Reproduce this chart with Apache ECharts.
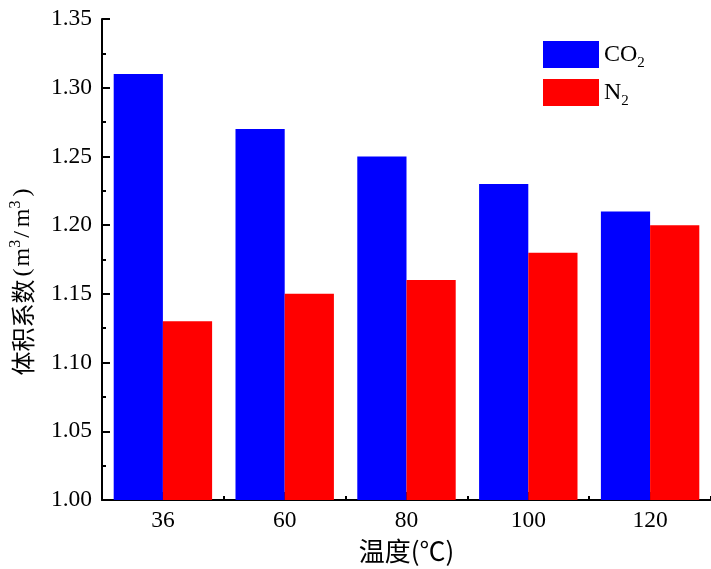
<!DOCTYPE html>
<html>
<head>
<meta charset="utf-8">
<script src="https://cdn.jsdelivr.net/npm/echarts@6/dist/echarts.min.js"></script>
<style>
  html, body { margin: 0; padding: 0; background: #fff; }
  #chart { width: 711px; height: 569px; }
</style>
</head>
<body>
<div id="chart"></div>
<script>
// Temperature categories (°C)
const categories = ['36', '60', '80', '100', '120'];
// Volume factor (m3/m3) for each gas
const co2Values = [1.31, 1.27, 1.25, 1.23, 1.21];
const n2Values = [1.13, 1.15, 1.16, 1.18, 1.20];
// Value axis range
const yMin = 1.00;
const yMax = 1.35;
const yStep = 0.05;

const serif = 'Liberation Serif';
const cjk = 'Noto Sans CJK SC';

const chart = echarts.init(document.getElementById('chart'));

const axisLineStyle = { color: '#000', width: 2 };

chart.setOption({
  animation: false,
  backgroundColor: '#fff',
  textStyle: { fontFamily: serif, color: '#000' },
  grid: { left: 100, top: 19, right: 0, bottom: 67, containLabel: false },
  legend: {
    orient: 'vertical',
    left: 543,
    top: 41,
    padding: 0,
    itemWidth: 56,
    itemHeight: 27,
    itemGap: 8.6,
    icon: 'rect',
    data: ['CO2', 'N2'],
    formatter: function (name) {
      return '{n|' + name.slice(0, -1) + '}{s|' + name.slice(-1) + '}';
    },
    textStyle: {
      rich: {
        n: { fontFamily: serif, fontSize: 24, color: '#000', lineHeight: 32, verticalAlign: 'middle' },
        s: { fontFamily: serif, fontSize: 15, color: '#000', lineHeight: 10, verticalAlign: 'bottom' }
      }
    }
  },
  xAxis: [
    {
      type: 'category',
      data: categories,
      position: 'bottom',
      axisLine: { show: true, lineStyle: axisLineStyle },
      axisTick: { show: true, inside: true, alignWithLabel: true, length: 8, lineStyle: axisLineStyle },
      axisLabel: {
        margin: 9,
        formatter: function (v) { return '{t|' + v + '}'; },
        rich: { t: { fontFamily: serif, fontSize: 23.5, color: '#000' } }
      },
      splitLine: { show: false },
      name: '温度(℃)',
      nameLocation: 'middle',
      nameGap: 38,
      nameTextStyle: { fontFamily: cjk, fontSize: 26, color: '#000' }
    },
    {
      // boundary ticks between temperature groups
      type: 'category',
      data: categories,
      position: 'bottom',
      axisLine: { show: false },
      axisTick: { show: true, inside: true, alignWithLabel: false, length: 4, lineStyle: axisLineStyle },
      axisLabel: { show: false },
      splitLine: { show: false }
    }
  ],
  yAxis: {
    type: 'value',
    min: yMin,
    max: yMax,
    interval: yStep,
    axisLine: { show: true, lineStyle: axisLineStyle },
    axisTick: { show: true, inside: true, length: 8, lineStyle: axisLineStyle },
    minorTick: { show: true, splitNumber: 2, length: 4, lineStyle: axisLineStyle },
    splitLine: { show: false },
    axisLabel: {
      margin: 10,
      formatter: function (v) { return '{t|' + v.toFixed(2) + '}'; },
      rich: { t: { fontFamily: serif, fontSize: 23.5, color: '#000' } }
    },
    name: '{c|体积系数}{pl|(}{p|m}{s|3}{sl|/}{p|m}{s|3}{pr|)}',
    nameLocation: 'middle',
    nameGap: 64,
    nameRotate: 90,
    nameTextStyle: {
      padding: [0, 45, 0, 0],
      rich: {
        c: { fontFamily: cjk, fontSize: 24, color: '#000', lineHeight: 30, verticalAlign: 'middle' },
        p: { fontFamily: serif, fontSize: 24, color: '#000', lineHeight: 30, verticalAlign: 'middle' },
        pl: { fontFamily: serif, fontSize: 24, color: '#000', lineHeight: 30, verticalAlign: 'middle', padding: [0, 2, 0, 3] },
        pr: { fontFamily: serif, fontSize: 24, color: '#000', lineHeight: 30, verticalAlign: 'middle', padding: [0, 0, 0, 4] },
        sl: { fontFamily: serif, fontSize: 24, color: '#000', lineHeight: 30, verticalAlign: 'middle', padding: [0, 4, 0, 2] },
        s: { fontFamily: serif, fontSize: 16, color: '#000', lineHeight: 16, verticalAlign: 'top' }
      }
    }
  },
  series: [
    {
      name: 'CO2',
      type: 'bar',
      data: co2Values,
      barWidth: '40.4%',
      barGap: '0%',
      itemStyle: { color: '#0000FF' }
    },
    {
      name: 'N2',
      type: 'bar',
      data: n2Values,
      barWidth: '40.4%',
      barGap: '0%',
      itemStyle: { color: '#FF0000' }
    }
  ]
});
</script>
</body>
</html>
